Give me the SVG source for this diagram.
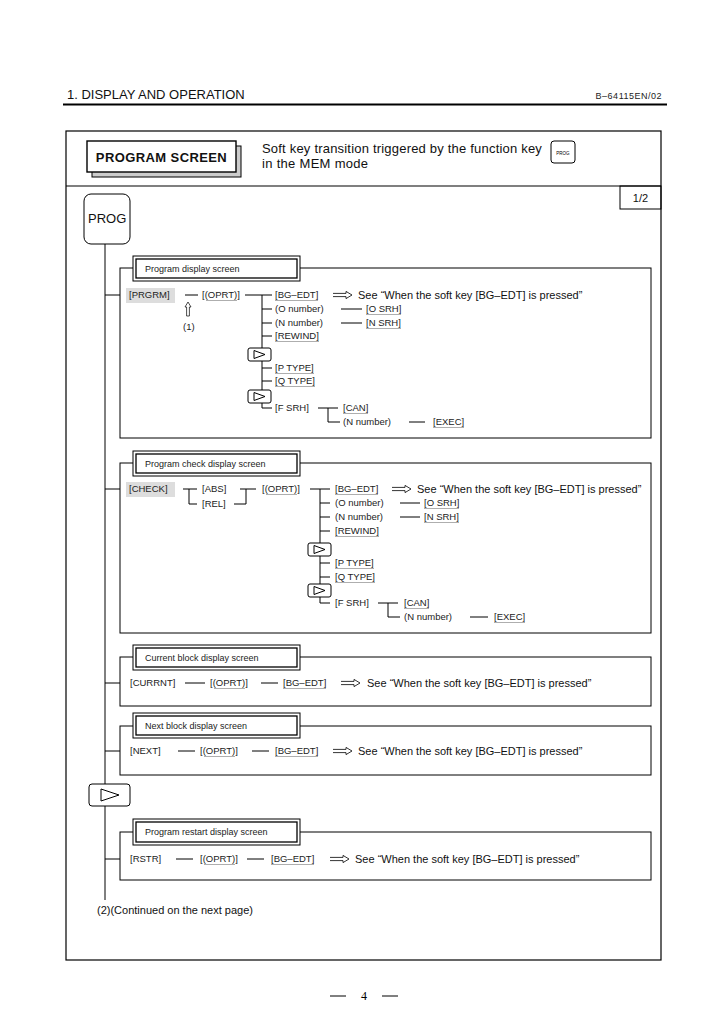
<svg xmlns="http://www.w3.org/2000/svg" width="728" height="1030" viewBox="0 0 728 1030">
<style>
.t{font-family:"Liberation Sans",Arial,sans-serif;font-size:9.5px;fill:#222}
.s{font-family:"Liberation Sans",Arial,sans-serif;font-size:11px;fill:#111}
.h{font-family:"Liberation Sans",Arial,sans-serif;font-size:13px;fill:#111}
.lb{font-family:"Liberation Sans",Arial,sans-serif;font-size:9px;fill:#222}
.ln{stroke:#000;stroke-width:1;fill:none}
.ul{stroke:#999;stroke-width:0.8}
.box{fill:#fff;stroke:#000;stroke-width:1}
.hl{fill:#ddd}
</style>
<defs>
<g id="nk"><rect x="0" y="0" width="23" height="13" rx="2" class="box"/><path d="M6,2.5 L17,6.5 L6,10.5 Z" fill="none" stroke="#000" stroke-width="1"/></g>
<path id="dar" d="M0,-1.6 H13 V-3.6 L19,0 L13,3.6 V1.6 H0" fill="none" stroke="#000" stroke-width="0.8"/>
</defs>
<rect width="728" height="1030" fill="#fff"/>
<g id="header">
<text x="67" y="99" class="h">1. DISPLAY AND OPERATION</text>
<text x="662" y="99" class="lb" text-anchor="end" letter-spacing="0.5">B–64115EN/02</text>
<line x1="63" y1="104.5" x2="667" y2="104.5" stroke="#000" stroke-width="2"/>
</g>
<g id="frame">
<rect x="66" y="131" width="595" height="829" fill="none" stroke="#000" stroke-width="1.2"/>
<line x1="66" y1="186" x2="661" y2="186" stroke="#000" stroke-width="1.2"/>
<rect x="620" y="186" width="41" height="23" fill="none" stroke="#000" stroke-width="1"/>
<text x="640.5" y="202" class="s" text-anchor="middle">1/2</text>
</g>
<g id="title">
<rect x="92" y="146" width="149" height="31" fill="#ccc" stroke="#000" stroke-width="1"/>
<rect x="87" y="141" width="149" height="31" fill="#fff" stroke="#000" stroke-width="1.4"/>
<text x="161.5" y="161.5" class="h" font-weight="bold" letter-spacing="0.4" text-anchor="middle">PROGRAM SCREEN</text>
<text x="262" y="153" class="h" letter-spacing="0.2">Soft key transition triggered by the function key</text>
<text x="262" y="168" class="h" letter-spacing="0.3">in the MEM mode</text>
<rect x="551" y="141" width="24" height="22" rx="3" class="box"/>
<text x="563" y="155" font-family="Liberation Sans,sans-serif" font-size="4.5" text-anchor="middle">PROG</text>
</g>
<g id="prog">
<rect x="84" y="194" width="46" height="50" rx="7" class="box"/>
<text x="88" y="223" class="h">PROG</text>
</g>
<g id="connectors">
<line x1="105" y1="244" x2="105" y2="784" class="ln"/>
<line x1="105" y1="806" x2="105" y2="900" class="ln"/>
<line x1="105" y1="295" x2="122" y2="295" class="ln"/>
<line x1="105" y1="489" x2="122" y2="489" class="ln"/>
<line x1="105" y1="683" x2="122" y2="683" class="ln"/>
<line x1="105" y1="751" x2="122" y2="751" class="ln"/>
<line x1="105" y1="859" x2="122" y2="859" class="ln"/>
</g>
<g id="s1">
<rect x="120" y="268" width="531" height="170" class="box" fill="none"/>
<rect x="133" y="256" width="167" height="25" class="box"/>
<rect x="136" y="259" width="161" height="19" fill="none" stroke="#000" stroke-width="1.3"/>
<text x="145" y="272" class="lb">Program display screen</text>
<rect x="126" y="288" width="49" height="15" class="hl"/>
<text x="129" y="298" class="t">[PRGRM]</text>
<line x1="185" y1="295" x2="198" y2="295" class="ln"/>
<text x="202" y="298" class="t">[(OPRT)]</text><line x1="206" y1="300.5" x2="237" y2="300.5" class="ul"/>
<path d="M188,302 L185,307 H186.6 V316 H189.4 V307 H191 Z" fill="#fff" stroke="#000" stroke-width="0.7"/>
<text x="183" y="330" class="t" font-size="10">(1)</text>
<path d="M245,295 H272 M262,295 V408 H272 M262,309 H272 M262,323 H272 M262,336 H272 M262,368 H272 M262,381 H272" class="ln"/>
<text x="275" y="298" class="t">[BG–EDT]</text><line x1="275" y1="300.5" x2="318" y2="300.5" class="ul"/>
<text x="275" y="312" class="t">(O number)</text>
<text x="275" y="326" class="t">(N number)</text>
<text x="275" y="339" class="t">[REWIND]</text><line x1="275" y1="341.5" x2="319" y2="341.5" class="ul"/>
<use href="#nk" x="248" y="348"/>
<text x="275" y="371" class="t">[P TYPE]</text><line x1="275" y1="373.5" x2="314" y2="373.5" class="ul"/>
<text x="275" y="384" class="t">[Q TYPE]</text><line x1="275" y1="386.5" x2="315" y2="386.5" class="ul"/>
<use href="#nk" x="248" y="390"/>
<text x="275" y="411" class="t">[F SRH]</text>
<use href="#dar" x="333" y="295"/>
<text x="358" y="299" class="s">See “When the soft key [BG–EDT] is pressed”</text>
<line x1="341" y1="309" x2="362" y2="309" class="ln"/>
<text x="366" y="312" class="t">[O SRH]</text><line x1="366" y1="314.5" x2="401" y2="314.5" class="ul"/>
<line x1="341" y1="323" x2="362" y2="323" class="ln"/>
<text x="366" y="326" class="t">[N SRH]</text><line x1="366" y1="328.5" x2="401" y2="328.5" class="ul"/>
<path d="M318,408 H338 M328,408 V422 H340" class="ln"/>
<text x="343" y="411" class="t">[CAN]</text><line x1="343" y1="413.5" x2="368" y2="413.5" class="ul"/>
<text x="343" y="425" class="t">(N number)</text>
<line x1="409" y1="422" x2="425" y2="422" class="ln"/>
<text x="433" y="425" class="t">[EXEC]</text><line x1="433" y1="427.5" x2="464" y2="427.5" class="ul"/>
</g>
<g id="s2">
<rect x="120" y="463" width="531" height="170" class="box" fill="none"/>
<rect x="133" y="451" width="167" height="25" class="box"/>
<rect x="136" y="454" width="161" height="19" fill="none" stroke="#000" stroke-width="1.3"/>
<text x="145" y="467" class="lb">Program check display screen</text>
<rect x="126" y="482" width="49" height="15" class="hl"/>
<text x="129" y="492" class="t">[CHECK]</text>
<path d="M183,489 H197 M189,489 V504 H197" class="ln"/>
<text x="202" y="492" class="t">[ABS]</text>
<text x="202" y="507" class="t">[REL]</text>
<path d="M234,504 H246 V489 M240,489 H256" class="ln"/>
<text x="262" y="492" class="t">[(OPRT)]</text><line x1="266" y1="494.5" x2="297" y2="494.5" class="ul"/>
<path d="M310,489 H330 M320,489 V603 H330 M320,503 H330 M320,517 H330 M320,531 H330 M320,563 H330 M320,577 H330" class="ln"/>
<text x="335" y="492" class="t">[BG–EDT]</text><line x1="335" y1="494.5" x2="378" y2="494.5" class="ul"/>
<text x="335" y="506" class="t">(O number)</text>
<text x="335" y="520" class="t">(N number)</text>
<text x="335" y="534" class="t">[REWIND]</text><line x1="335" y1="536.5" x2="379" y2="536.5" class="ul"/>
<use href="#nk" x="308" y="543"/>
<text x="335" y="566" class="t">[P TYPE]</text><line x1="335" y1="568.5" x2="374" y2="568.5" class="ul"/>
<text x="335" y="580" class="t">[Q TYPE]</text><line x1="335" y1="582.5" x2="375" y2="582.5" class="ul"/>
<use href="#nk" x="308" y="584"/>
<text x="335" y="606" class="t">[F SRH]</text>
<use href="#dar" x="392" y="489"/>
<text x="417" y="493" class="s">See “When the soft key [BG–EDT] is pressed”</text>
<line x1="400" y1="503" x2="420" y2="503" class="ln"/>
<text x="424" y="506" class="t">[O SRH]</text><line x1="424" y1="508.5" x2="459" y2="508.5" class="ul"/>
<line x1="400" y1="517" x2="420" y2="517" class="ln"/>
<text x="424" y="520" class="t">[N SRH]</text><line x1="424" y1="522.5" x2="459" y2="522.5" class="ul"/>
<path d="M378,603 H398 M388,603 V617 H400" class="ln"/>
<text x="404" y="606" class="t">[CAN]</text><line x1="404" y1="608.5" x2="429" y2="608.5" class="ul"/>
<text x="404" y="620" class="t">(N number)</text>
<line x1="470" y1="617" x2="488" y2="617" class="ln"/>
<text x="494" y="620" class="t">[EXEC]</text><line x1="494" y1="622.5" x2="525" y2="622.5" class="ul"/>
</g>
<g id="s3">
<rect x="120" y="657" width="531" height="49" class="box" fill="none"/>
<rect x="133" y="645" width="167" height="25" class="box"/>
<rect x="136" y="648" width="161" height="19" fill="none" stroke="#000" stroke-width="1.3"/>
<text x="145" y="661" class="lb">Current block display screen</text>
<text x="130" y="686" class="t">[CURRNT]</text>
<line x1="185" y1="683" x2="205" y2="683" class="ln"/>
<text x="210" y="686" class="t">[(OPRT)]</text><line x1="214" y1="688.5" x2="245" y2="688.5" class="ul"/>
<line x1="261" y1="683" x2="278" y2="683" class="ln"/>
<text x="283" y="686" class="t">[BG–EDT]</text><line x1="283" y1="688.5" x2="326" y2="688.5" class="ul"/>
<use href="#dar" x="341" y="683"/>
<text x="367" y="687" class="s">See “When the soft key [BG–EDT] is pressed”</text>
</g>
<g id="s4">
<rect x="120" y="726" width="531" height="49" class="box" fill="none"/>
<rect x="133" y="713" width="167" height="25" class="box"/>
<rect x="136" y="716" width="161" height="19" fill="none" stroke="#000" stroke-width="1.3"/>
<text x="145" y="729" class="lb">Next block display screen</text>
<text x="130" y="754" class="t">[NEXT]</text>
<line x1="178" y1="751" x2="195" y2="751" class="ln"/>
<text x="200" y="754" class="t">[(OPRT)]</text><line x1="204" y1="756.5" x2="235" y2="756.5" class="ul"/>
<line x1="252" y1="751" x2="269" y2="751" class="ln"/>
<text x="275" y="754" class="t">[BG–EDT]</text><line x1="275" y1="756.5" x2="318" y2="756.5" class="ul"/>
<use href="#dar" x="333" y="751"/>
<text x="358" y="755" class="s">See “When the soft key [BG–EDT] is pressed”</text>
</g>
<g id="nextkey">
<rect x="89" y="784" width="41" height="22" rx="3" class="box"/>
<path d="M101,789 L119,795 L101,801 Z" fill="none" stroke="#000" stroke-width="1"/>
</g>
<g id="s5">
<rect x="120" y="832" width="531" height="48" class="box" fill="none"/>
<rect x="133" y="819" width="167" height="26" class="box"/>
<rect x="136" y="822" width="161" height="20" fill="none" stroke="#000" stroke-width="1.3"/>
<text x="145" y="835" class="lb">Program restart display screen</text>
<text x="130" y="862" class="t">[RSTR]</text>
<line x1="176" y1="859" x2="193" y2="859" class="ln"/>
<text x="200" y="862" class="t">[(OPRT)]</text><line x1="204" y1="864.5" x2="235" y2="864.5" class="ul"/>
<line x1="247" y1="859" x2="264" y2="859" class="ln"/>
<text x="271" y="862" class="t">[BG–EDT]</text><line x1="271" y1="864.5" x2="314" y2="864.5" class="ul"/>
<use href="#dar" x="330" y="859"/>
<text x="355" y="863" class="s">See “When the soft key [BG–EDT] is pressed”</text>
</g>
<g id="footer">
<text x="97" y="914" class="s">(2)(Continued on the next page)</text>
<line x1="330" y1="996" x2="346" y2="996" stroke="#000" stroke-width="1"/>
<text x="364" y="1000" font-family="Liberation Serif,serif" font-size="12" text-anchor="middle">4</text>
<line x1="382" y1="996" x2="398" y2="996" stroke="#000" stroke-width="1"/>
</g>
</svg>
